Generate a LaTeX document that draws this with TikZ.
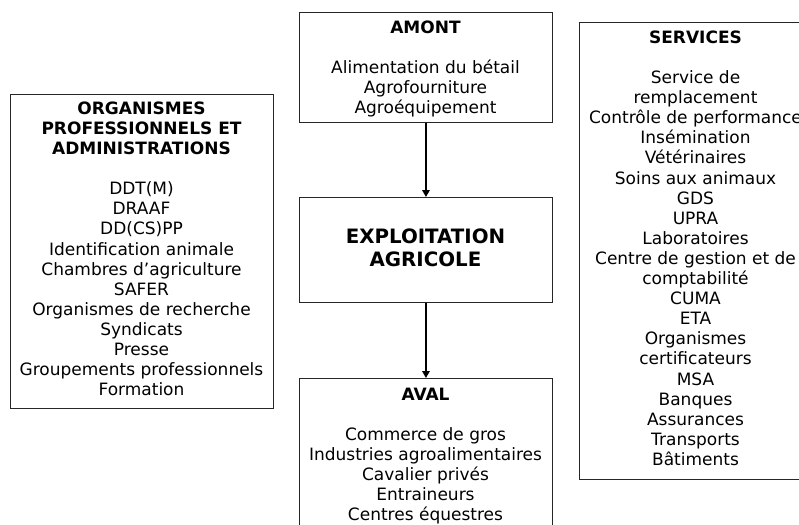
\documentclass[tikz,border=0pt]{standalone}
\usepackage{fontspec}
\setmainfont{DejaVu Sans}
\usetikzlibrary{arrows.meta}
\begin{document}
\begin{tikzpicture}[x=1pt,y=-1pt,
  box/.style={draw=black!85, line width=0.9pt, inner sep=0pt, anchor=north west},
  txt/.style={align=center, font=\fontsize{17}{20.1}\selectfont, anchor=north, inner sep=0pt},
  big/.style={align=center, font=\fontsize{19.8}{23}\selectfont\bfseries, inner sep=0pt},
  arr/.style={line width=1.6pt, -{Triangle[length=7pt,width=7.5pt]}}]
\useasboundingbox (0,0) rectangle (799,524);
\clip (0,0) rectangle (799,524);
\node[box, minimum width=263pt, minimum height=314pt] (org) at (10,94) {};
\node[box, minimum width=253pt, minimum height=110pt] (amont) at (299,12) {};
\node[box, minimum width=253pt, minimum height=105pt] (expl) at (299,197) {};
\node[box, minimum width=253pt, minimum height=170pt] (aval) at (299,378) {};
\node[box, minimum width=233pt, minimum height=457pt] (serv) at (579,22) {};
\node[txt] (orgt) at (141.5,101.5) {\textbf{ORGANISMES}\\\textbf{PROFESSIONNELS ET}\\\textbf{ADMINISTRATIONS}\\[20.1pt]
DDT(M)\\DRAAF\\DD(CS)PP\\Identification animale\\Chambres d’agriculture\\SAFER\\Organismes de recherche\\Syndicats\\Presse\\Groupements professionnels\\Formation};
\node[txt] (amontt) at (425.5,20.5) {\textbf{AMONT}\\[20.1pt]Alimentation du bétail\\Agrofourniture\\Agroéquipement};
\node[big] (explt) at (425.5,248) {EXPLOITATION\\AGRICOLE};
\node[txt] (avalt) at (425.5,387.5) {\textbf{AVAL}\\[20.1pt]Commerce de gros\\Industries agroalimentaires\\Cavalier privés\\Entraineurs\\Centres équestres};
\node[txt] (servt) at (695.5,30.5) {\textbf{SERVICES}\\[20.1pt]Service de\\remplacement\\Contrôle de performance\\Insémination\\Vétérinaires\\Soins aux animaux\\GDS\\UPRA\\Laboratoires\\Centre de gestion et de\\comptabilité\\CUMA\\ETA\\Organismes\\certificateurs\\MSA\\Banques\\Assurances\\Transports\\Bâtiments};
\draw[arr] (amont.south) -- (expl.north);
\draw[arr] (expl.south) -- (aval.north);
\end{tikzpicture}
\end{document}
